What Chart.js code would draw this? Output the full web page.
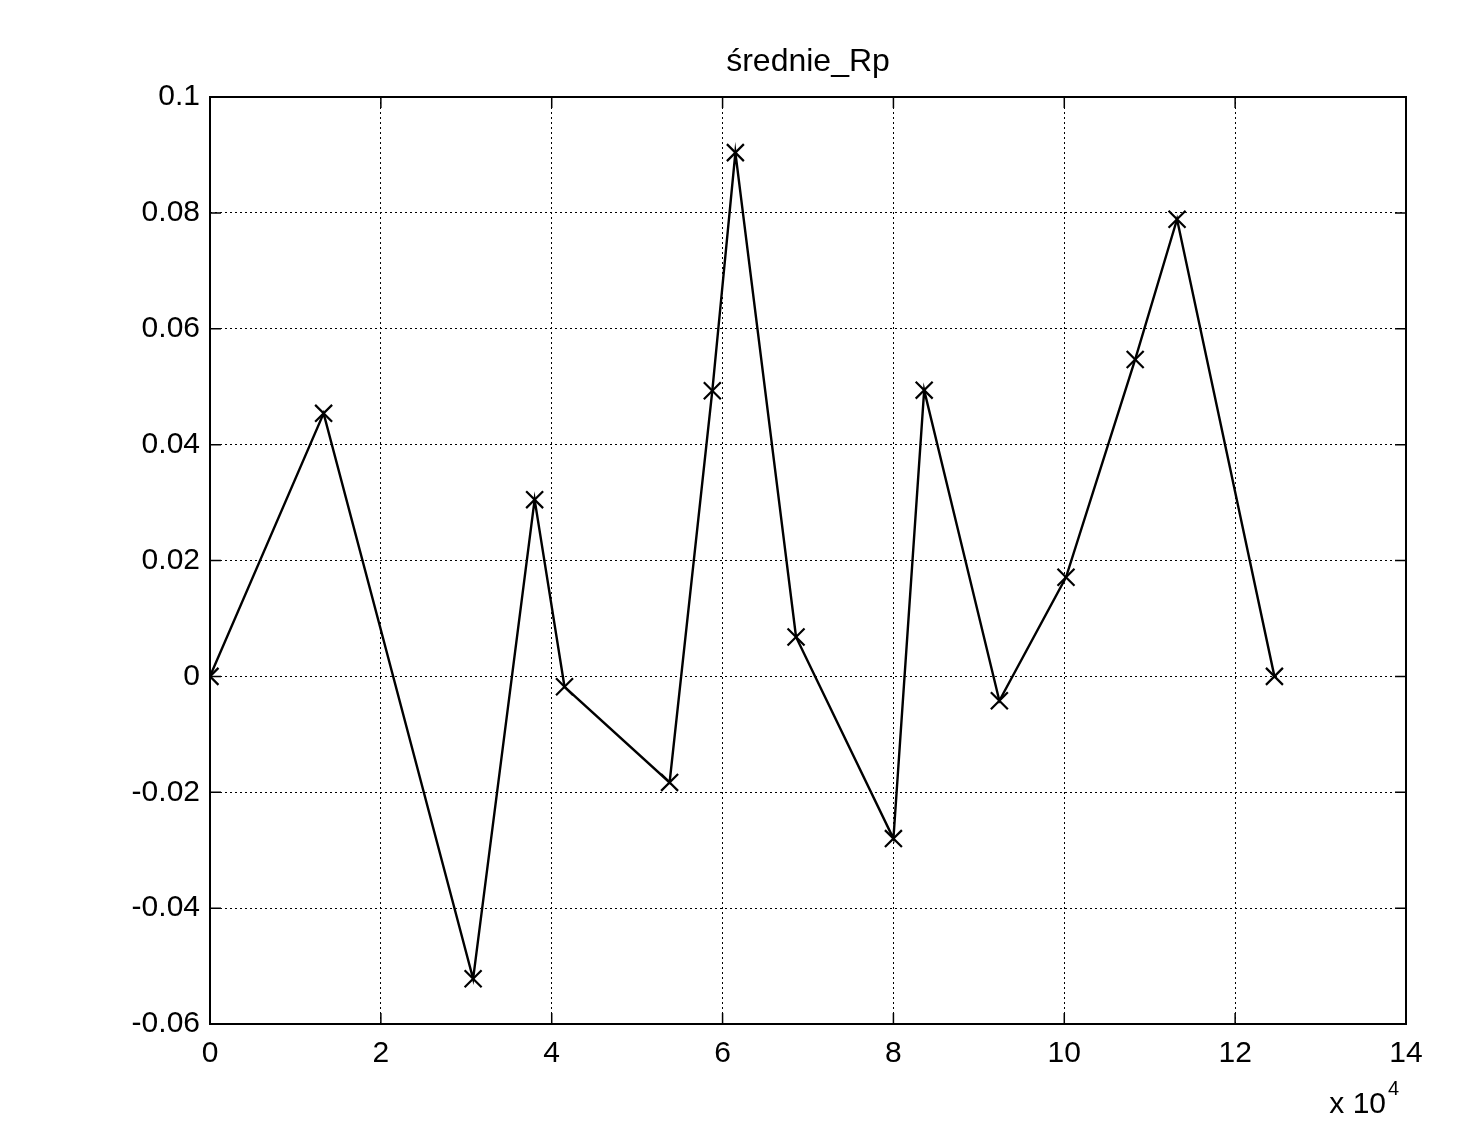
<!DOCTYPE html>
<html>
<head>
<meta charset="utf-8">
<script src="https://cdn.jsdelivr.net/npm/chart.js@4/dist/chart.umd.min.js"></script>
<style>
html,body{margin:0;padding:0;background:#fff;}
#wrap{width:1467px;height:1148px;position:relative;}
</style>
</head>
<body>
<div id="wrap"><canvas id="c" width="1467" height="1148"></canvas></div>
<script>
// Data (x in raw units, displayed ×10^4)
const xValues = [0, 13300, 30800, 38000, 41500, 53800, 58800, 61500, 68600, 80000, 83600, 92400, 100200, 108300, 113200, 124600];
const yValues = [0, 0.0454, -0.0522, 0.0305, -0.0018, -0.0183, 0.0493, 0.0904, 0.0068, -0.0280, 0.0494, -0.0042, 0.0171, 0.0547, 0.0789, 0.0000];
const xTickValues = [0, 20000, 40000, 60000, 80000, 100000, 120000, 140000];
const yTickValues = [-0.06, -0.04, -0.02, 0, 0.02, 0.04, 0.06, 0.08, 0.1];
const titleText = 'średnie_Rp';
const exponentBase = 'x 10';
const exponentPower = '4';

const FONT = '"Liberation Sans", Arial, sans-serif';

const points = xValues.map((x, i) => ({x: x, y: yValues[i]}));

const frameAndTicks = {
  id: 'frameAndTicks',
  afterDraw(chart) {
    const ctx = chart.ctx;
    const a = chart.chartArea;
    const xs = chart.scales.x, ys = chart.scales.y;
    ctx.save();
    ctx.setLineDash([]);
    ctx.strokeStyle = '#000';
    ctx.lineWidth = 2;
    ctx.strokeRect(a.left, a.top, a.right - a.left, a.bottom - a.top);
    ctx.lineWidth = 1.5;
    const tl = 11;
    ctx.beginPath();
    xTickValues.forEach(v => {
      const px = xs.getPixelForValue(v);
      ctx.moveTo(px, a.bottom); ctx.lineTo(px, a.bottom - tl);
      ctx.moveTo(px, a.top); ctx.lineTo(px, a.top + tl);
    });
    yTickValues.forEach(v => {
      const py = ys.getPixelForValue(v);
      ctx.moveTo(a.left, py); ctx.lineTo(a.left + tl, py);
      ctx.moveTo(a.right, py); ctx.lineTo(a.right - tl, py);
    });
    ctx.stroke();
    ctx.fillStyle = '#000';
    // title centred over the axes
    ctx.font = '32px ' + FONT;
    ctx.textAlign = 'center';
    ctx.textBaseline = 'middle';
    ctx.fillText(titleText, (a.left + a.right) / 2, a.top - 35);
    // exponent label
    ctx.font = '30px ' + FONT;
    ctx.textAlign = 'right';
    ctx.textBaseline = 'alphabetic';
    ctx.fillText(exponentBase, a.right - 20, a.bottom + 89);
    ctx.font = '20px ' + FONT;
    ctx.textAlign = 'left';
    ctx.fillText(exponentPower, a.right - 18, a.bottom + 71);
    ctx.restore();
  }
};

new Chart(document.getElementById('c'), {
  type: 'line',
  data: {
    datasets: [{
      data: points,
      borderColor: '#000',
      borderWidth: 2.4,
      pointStyle: 'crossRot',
      pointRadius: 12,
      pointBorderWidth: 2.2,
      pointBorderColor: '#000',
      pointBackgroundColor: '#000',
      tension: 0,
      fill: false
    }]
  },
  options: {
    responsive: false,
    animation: false,
    events: [],
    layout: {padding: {left: 0, right: 61, top: 97, bottom: 0}},
    plugins: {
      legend: {display: false},
      tooltip: {enabled: false},
      title: {display: false}
    },
    scales: {
      x: {
        type: 'linear',
        min: 0, max: 140000,
        afterBuildTicks(scale) { scale.ticks = xTickValues.map(v => ({value: v})); },
        afterFit(scale) { scale.height = 124; },
        ticks: {
          color: '#000',
          font: {family: FONT, size: 30},
          padding: 12,
          maxRotation: 0,
          callback: v => String(Math.round(v / 10000))
        },
        grid: {color: '#000', lineWidth: 1, drawTicks: false},
        border: {display: false, dash: [2, 3]}
      },
      y: {
        type: 'linear',
        min: -0.06, max: 0.1,
        afterBuildTicks(scale) { scale.ticks = yTickValues.map(v => ({value: v})); },
        afterFit(scale) { scale.width = 210; },
        ticks: {
          color: '#000',
          font: {family: FONT, size: 30},
          padding: 10,
          callback: v => String(Math.round(v * 100) / 100)
        },
        grid: {color: '#000', lineWidth: 1, drawTicks: false},
        border: {display: false, dash: [2, 3]}
      }
    }
  },
  plugins: [frameAndTicks]
});
</script>
</body>
</html>
